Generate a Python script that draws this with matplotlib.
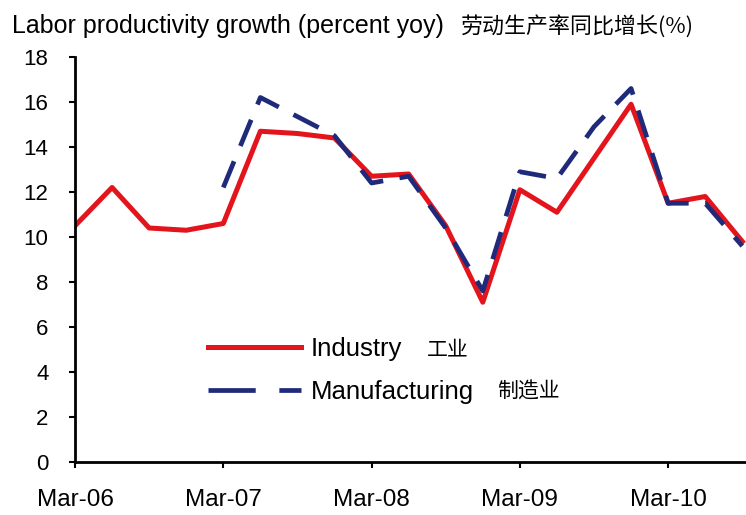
import numpy as np
import matplotlib
matplotlib.use("Agg")
import matplotlib.pyplot as plt
from matplotlib.lines import Line2D

plt.rcParams['font.family'] = ['Liberation Sans', 'Noto Sans CJK SC']

# quarterly, Mar-06 .. Sep-10
quarters = ['Mar-06', 'Jun-06', 'Sep-06', 'Dec-06',
            'Mar-07', 'Jun-07', 'Sep-07', 'Dec-07',
            'Mar-08', 'Jun-08', 'Sep-08', 'Dec-08',
            'Mar-09', 'Jun-09', 'Sep-09', 'Dec-09',
            'Mar-10', 'Jun-10', 'Sep-10']
industry = [10.5, 12.2, 10.4, 10.3,
            10.6, 14.7, 14.6, 14.4,
            12.7, 12.8, 10.5, 7.1,
            12.1, 11.1, 13.5, 15.9,
            11.5, 11.8, 9.8]
manufacturing = [np.nan, np.nan, np.nan, np.nan,
                 12.2, 16.2, 15.35, 14.5,
                 12.4, 12.7, 10.4, 7.6,
                 12.9, 12.6, 14.9, 16.6,
                 11.5, 11.5, 9.6]
tick_labels = ['Mar-06', 'Mar-07', 'Mar-08', 'Mar-09', 'Mar-10']

x = np.arange(len(quarters))

fig = plt.figure(figsize=(7.46, 5.15), dpi=100)
ax = fig.add_axes([75/746, 1 - 462/515, 1 - 75/746, (462 - 57)/515])

red = '#e3141c'
navy = '#1f2a7a'

l1, = ax.plot(x, industry, color=red, lw=3.6, solid_joinstyle='round', zorder=2)
l2, = ax.plot(x, manufacturing, color=navy, lw=3.4, dashes=(6, 3.5),
              dash_joinstyle='round', zorder=3)

ax.set_ylim(0, 18)
ax.set_xlim(0, 18.1)
ax.set_yticks(np.arange(0, 19, 2))
ax.set_xticks([quarters.index(t) for t in tick_labels])
ax.set_xticklabels(tick_labels)

for s in ['top', 'right']:
    ax.spines[s].set_visible(False)
for s in ['left', 'bottom']:
    ax.spines[s].set_linewidth(2)
ax.tick_params(axis='both', width=1.5, length=4)
ax.tick_params(axis='y', labelsize=16, pad=15)
ax.tick_params(axis='x', labelsize=17.5, pad=15.5)

# legend key for the dashed series uses longer dashes
h2 = Line2D([], [], color=navy, lw=3.4, dashes=(10, 5))
leg = ax.legend([l1, h2], ['Industry', 'Manufacturing'], loc='upper left',
                bbox_to_anchor=(208/746, 1 - 337/515), bbox_transform=fig.transFigure,
                frameon=False, fontsize=18.5, handlelength=3.6, handletextpad=0.4,
                labelspacing=0.72, borderpad=0, borderaxespad=0)

fig.text(12/746, 1 - 33/515, 'Labor productivity growth (percent yoy)',
         fontsize=18, ha='left', va='baseline')
fig.text(461/746, 1 - 33/515, '劳动生产率同比增长(%)',
         fontsize=15.8, ha='left', va='baseline', family=['Noto Sans CJK SC'])

# Chinese names next to the legend entries
fig.canvas.draw()
r = fig.canvas.get_renderer()
inv = fig.transFigure.inverted()
for t, zh, xpix in zip(leg.get_texts(), ['工业', '制造业'], [427, 497]):
    bb = t.get_window_extent(r)
    x0, y0 = inv.transform((bb.x0, (bb.y0 + bb.y1) / 2))
    fig.text(xpix/746, y0, zh, fontsize=15, va='center', ha='left',
             family=['Noto Sans CJK SC'])

fig.savefig('out.png', dpi=100)
